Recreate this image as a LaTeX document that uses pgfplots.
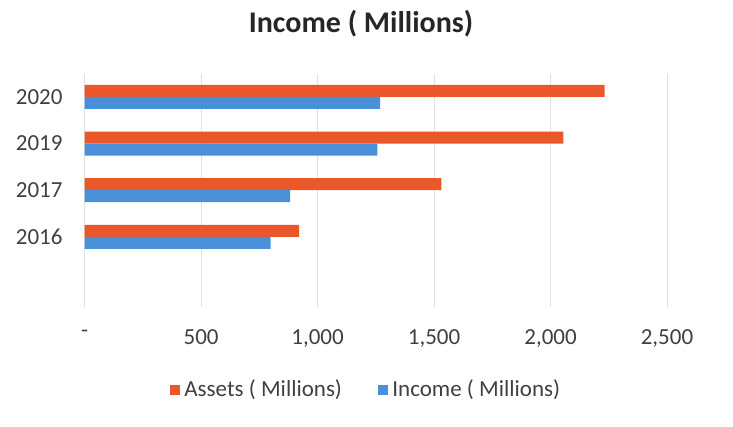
\documentclass[border=0pt]{standalone}
\usepackage{fontspec}
\setmainfont{Carlito}
\usepackage{pgfplots}
\pgfplotsset{compat=1.18}
\definecolor{assets}{HTML}{E9572B}
\definecolor{income}{HTML}{4A90D9}
\begin{document}
\begin{tikzpicture}
\useasboundingbox (0,0) rectangle (366.5pt,213.5pt);
\node[anchor=base, font=\fontsize{15}{18}\selectfont\bfseries, text=black!85] at (180.5pt,197pt) {Income ( Millions)};
\begin{axis}[
  at={(42.3pt,60pt)}, anchor=south west,
  scale only axis, width=291.2pt, height=116.75pt,
  xbar, bar width=6pt,
  xmin=0, xmax=2500, ymin=-0.5, ymax=4.5,
  ytick={1,2,3,4}, yticklabels={2016,2017,2019,2020},
  xtick={0,500,1000,1500,2000,2500},
  xticklabels={-,500,{1,000},{1,500},{2,000},{2,500}},
  axis line style={draw=none},
  major tick length=0pt,
  xmajorgrids, grid style={black!12, line width=0.5pt},
  tick label style={font=\fontsize{11.5}{13}\selectfont, text=black!75},
  yticklabel style={xshift=-7.5pt},
  xticklabel style={yshift=-8pt},
  legend style={at={(0.485,-0.355)}, anchor=center, draw=none, legend columns=2,
    font=\fontsize{11.5}{13}\selectfont, text=black!75,
    /tikz/every even column/.append style={column sep=16pt}},
  legend image code/.code={\fill[#1] (1pt,-2.6pt) rectangle (6.2pt,2.6pt);},
]
\addplot[fill=assets, draw=none, bar shift=3pt] coordinates {(921,1) (1531,2) (2055,3) (2232,4)};
\addplot[fill=income, draw=none, bar shift=-3pt] coordinates {(798,1) (882,2) (1257,3) (1269,4)};
\legend{Assets ( Millions), Income ( Millions)}
\end{axis}
\end{tikzpicture}
\end{document}
